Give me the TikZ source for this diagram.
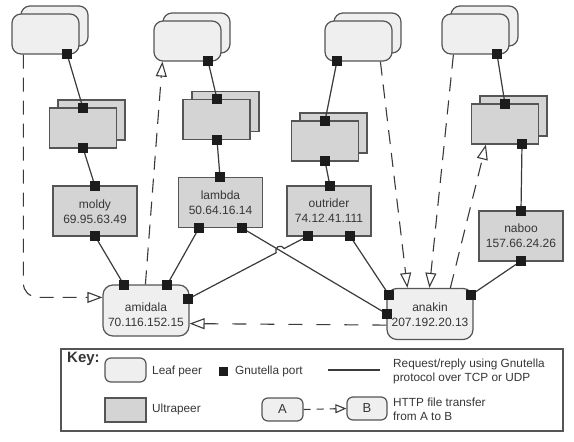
\documentclass[tikz,border=0pt]{standalone}
\usepackage{fontspec}
\setmainfont{Liberation Sans}
\usetikzlibrary{arrows.meta,calc}
\definecolor{leaffill}{HTML}{EFEFEF}
\definecolor{ultrafill}{HTML}{D4D4D4}
\definecolor{bd}{HTML}{555555}
\definecolor{linec}{HTML}{3A3A3A}
\definecolor{txt}{HTML}{363636}
\definecolor{portc}{HTML}{1C1C1C}
\begin{document}
\begin{tikzpicture}[x=1pt,y=-1pt,
  leafbox/.style={draw=bd, fill=leaffill, line width=1.2pt, rounded corners=9pt, minimum width=67pt, minimum height=40pt, inner sep=0pt},
  ultrabox/.style={draw=bd, fill=ultrafill, line width=1.2pt, minimum width=67pt, minimum height=40pt, inner sep=0pt},
  hostbox/.style={ultrabox, minimum width=84pt, minimum height=50pt},
  hostleaf/.style={leafbox, rounded corners=10pt, minimum width=86pt, minimum height=51pt},
  port/.style={fill=portc, minimum size=9pt, inner sep=0pt},
  link/.style={draw=linec, line width=1.2pt},
  xfer/.style={draw=linec, line width=1.1pt, dash pattern=on 14pt off 9pt, -{Triangle[open,length=15pt,width=11pt,line width=1.1pt]}},
  lbl/.style={font=\fontsize{12}{15}\selectfont, text=txt, align=center, inner sep=0pt},
  keytxt/.style={font=\fontsize{11.8}{13.5}\selectfont, text=txt, align=left, anchor=west, inner sep=0pt}
]
\useasboundingbox (0,0) rectangle (574,442);

% ---- stacks: leaf peers (top) and ultrapeers
\node[leafbox] (l1b) at (54.5,26) {};
\node[leafbox] (l1) at (45.5,34) {};
\node[ultrabox] (u1b) at (91.5,120) {};
\node[ultrabox] (u1) at (83,128) {};

\node[leafbox] (l2b) at (196.5,33) {};
\node[leafbox] (l2) at (187.5,41) {};
\node[ultrabox] (u2b) at (225.5,111.5) {};
\node[ultrabox] (u2) at (216.5,119.5) {};

\node[leafbox] (l3b) at (367.5,33) {};
\node[leafbox] (l3) at (358.5,41) {};
\node[ultrabox] (u3b) at (333.5,133) {};
\node[ultrabox] (u3) at (325,141) {};

\node[leafbox] (l4b) at (484.5,26) {};
\node[leafbox] (l4) at (475.5,34) {};
\node[ultrabox] (u4b) at (513.5,116) {};
\node[ultrabox] (u4) at (505,124) {};

% ---- hosts
\node[hostbox] (mo) at (95,211) {};
\node[lbl] (moT) at (95,211.5) {moldy\\69.95.63.49};
\node[hostbox] (la) at (220.5,202.5) {};
\node[lbl] (laT) at (220.5,202.5) {lambda\\50.64.16.14};
\node[hostbox] (ou) at (329,211) {};
\node[lbl] (ouT) at (329,210.5) {outrider\\74.12.41.111};
\node[hostbox] (na) at (521,236) {};
\node[lbl] (naT) at (521,235.5) {naboo\\157.66.24.26};
\node[hostleaf] (am) at (146,310.5) {};
\node[lbl] (amT) at (146,314.5) {amidala\\70.116.152.15};
\node[hostleaf] (an) at (430,314) {};
\node[lbl] (anT) at (430,314.5) {anakin\\207.192.20.13};

% ---- ports
\node[port] (p1) at (67,54) {};
\node[port] (u1t) at (83,108) {};
\node[port] (u1d) at (83,148) {};
\node[port] (mot) at (95,186) {};
\node[port] (mod) at (95,236) {};
\node[port] (p2) at (208,61) {};
\node[port] (u2t) at (217,99) {};
\node[port] (u2d) at (217,140) {};
\node[port] (lat) at (220,177) {};
\node[port] (lal) at (199,228) {};
\node[port] (lar) at (242,228) {};
\node[port] (p3) at (337,61) {};
\node[port] (u3t) at (325,121) {};
\node[port] (u3d) at (325,161) {};
\node[port] (out) at (330,186) {};
\node[port] (oul) at (308,236) {};
\node[port] (our) at (350,236) {};
\node[port] (p4) at (497,54) {};
\node[port] (u4t) at (505,104) {};
\node[port] (u4d) at (522,144) {};
\node[port] (nat) at (521,211) {};
\node[port] (nad) at (521,261) {};
\node[port] (am1) at (124,285) {};
\node[port] (am2) at (167,285) {};
\node[port] (amr) at (188,299) {};
\node[port] (an1) at (389,295) {};
\node[port] (anl) at (387,314) {};
\node[port] (anr) at (471,295) {};

% ---- Gnutella links
\coordinate (hop) at (intersection of lar.center--anl.center and oul.center--amr.center);
\path[link] (p1.center) -- (u1t.center)
  (u1d.center) -- (mot.center)
  (mod.center) -- (am1.center)
  (p2.center) -- (u2t.center)
  (u2d.center) -- (lat.center)
  (lal.center) -- (am2.center)
  (lar.center) -- (anl.center)
  (p3.center) -- (u3t.center)
  (u3d.center) -- (out.center)
  (our.center) -- (an1.center)
  (p4.center) -- (u4t.center)
  (u4d.center) -- (nat.center)
  (nad.center) -- (anr.center);
\path[link] (oul.center) -- ($(hop)!4.5pt!(oul.center)$)
  arc[start angle=27.7, end angle=207.7, radius=4.5pt] -- (amr.center);

% ports on top of the links
\foreach \p in {p1,u1t,u1d,mot,mod,p2,u2t,u2d,lat,lal,lar,p3,u3t,u3d,out,oul,our,p4,u4t,u4d,nat,nad,am1,am2,amr,an1,anl,anr}
  \fill[portc] (\p.north west) rectangle (\p.south east);

% ---- HTTP transfers
\draw[xfer, rounded corners=14pt] ($(l1.south west)+(12,0)$) |- ($(am.north west)+(0,13)$);
\draw[xfer] ($(am.north west)+(43,0)$) -- ($(l2.south west)+(9,0)$);
\draw[xfer] ($(l3.south west)+(56,0)$) -- ($(an.north west)+(21,0)$);
\draw[xfer] ($(l4.south west)+(12,0)$) -- ($(an.north west)+(43,0)$);
\draw[xfer] ($(an.north west)+(64,0)$) -- ($(u4.south west)+(15,0)$);
\draw[xfer, dash pattern=on 14pt off 14pt] ($(an.south west)+(0,-15)$) -- ($(am.south east)+(0,-13)$);

% ---- key
\node[draw=bd, line width=1.2pt, minimum width=502pt, minimum height=82pt, inner sep=0pt] (key) at (312,390) {};
\node[font=\bfseries\fontsize{15}{17}\selectfont, text=txt, anchor=west, inner sep=0pt] (keyT) at (67,359) {Key:};
\node[leafbox, minimum width=41pt, minimum height=24pt, rounded corners=6pt] (kleaf) at (125.5,370) {};
\node[keytxt] (kleafT) at (152,371) {Leaf peer};
\node[port] (kport) at (223.5,371) {};
\node[keytxt] (kportT) at (235,371) {Gnutella port};
\coordinate (kl1) at (328,370);
\coordinate (kl2) at (380,370);
\draw[link] (kl1) -- (kl2);
\node[keytxt] (klineT) at (393,371.5) {Request/reply using Gnutella\\protocol over TCP or UDP};
\node[ultrabox, minimum width=41pt, minimum height=24pt] (kultra) at (125.5,410) {};
\node[keytxt] (kultraT) at (152,409) {Ultrapeer};
\node[leafbox, minimum width=41pt, minimum height=23pt, rounded corners=6pt, font=\fontsize{13}{15}\selectfont, text=txt] (kA) at (282.5,409.5) {A};
\node[leafbox, minimum width=40pt, minimum height=23pt, rounded corners=6pt, font=\fontsize{13}{15}\selectfont, text=txt] (kB) at (367,408.5) {B};
\draw[xfer, dash pattern=on 7pt off 6pt, -{Triangle[open,length=11pt,width=9pt,line width=1.1pt]}] (kA.east) -- (kB.west);
\node[keytxt] (kxferT) at (393,409.5) {HTTP file transfer\\from A to B};
\end{tikzpicture}
\end{document}
